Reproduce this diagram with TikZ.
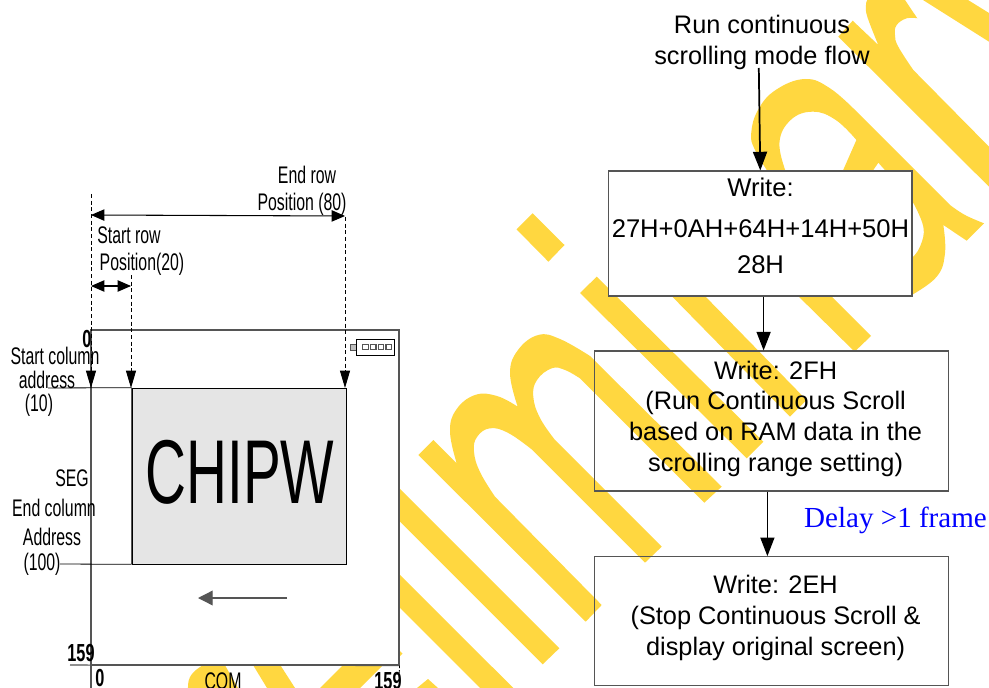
\documentclass[tikz,border=0pt]{standalone}
\usepackage{xcolor}
\usepackage{fontspec}
\setmainfont{Liberation Sans}
\newfontfamily\narrowsans[FakeStretch=0.66]{Liberation Sans}
\newfontfamily\bignarrow[FakeStretch=0.625]{Liberation Sans}
\newfontfamily\delayserif{Liberation Serif}
\usetikzlibrary{arrows.meta}
\definecolor{wmark}{HTML}{FFD740}
\definecolor{winfill}{HTML}{E5E5E5}
\definecolor{edge}{HTML}{555555}
\definecolor{delayblue}{HTML}{0000FF}
\tikzset{
  flowarrow/.style={draw=black,line width=1.3pt,-{Triangle[length=14pt,width=10.5pt]}},
  dimdash/.style={draw=black,line width=0.7pt,dash pattern=on 3pt off 2pt,-{Triangle[length=13pt,width=7.5pt]}},
  dimline/.style={draw=black,line width=0.8pt,{Triangle[length=10pt,width=8.5pt]}-{Triangle[length=10pt,width=8.5pt]}},
  scrollarrow/.style={draw=edge,line width=1pt,-{Triangle[length=11pt,width=11pt]}},
  thinline/.style={draw=edge,line width=0.8pt},
  flowbox/.style={draw=edge,line width=0.8pt,inner sep=0pt},
  flowtext/.style={align=center,inner sep=0pt,font=\fontsize{19}{23}\selectfont},
  panellabel/.style={align=center,inner sep=0pt,font=\narrowsans\fontsize{18}{20}\selectfont},
  paneldigit/.style={inner sep=0pt,font=\narrowsans\bfseries\fontsize{18.5}{20}\selectfont},
  iconcell/.style={draw=edge,line width=0.8pt,fill=white,inner sep=0pt,minimum width=4.2pt,minimum height=4pt},
  smoothing/.style={smooth,tension=0.7}
}
\begin{document}
\begin{tikzpicture}[x=0.75pt,y=-0.75pt]
\useasboundingbox (0,0) rectangle (989,688);

% watermark
\fill[wmark] (516.5,229.3) -- (532.6,213.3) -- (564.5,245) -- (548.4,261.7) -- cycle;
\fill[wmark] (580,293) -- (596.7,276.7) -- (763.3,441.7) -- (746.7,458.3) -- cycle;
\fill[wmark] (668,292.3) -- (701,292) -- (806.5,400) -- (790,416.7) -- cycle;
\fill[wmark] (790,288) -- (825,290) -- (871,336) -- (854.6,351.7) -- cycle;
\fill[wmark] (923,0) -- (989,41.7) -- (989,13) -- (968,0) -- cycle;
\fill[wmark] (390,479) -- (559.3,648.3) -- (542.7,664.3) -- (390,511.6) -- cycle;
\fill[wmark] (390,565) -- (513.3,688) -- (480,688) -- (390,598) -- cycle;
\fill[wmark] (399,650) -- (402.5,653.5) -- (399,657) -- cycle;
\fill[wmark] (417,688) -- (428,679) -- (438,688) -- cycle;
\fill[wmark] (350,658) -- (390,658) -- (360,688) -- (320,688) -- cycle;
\fill[wmark] (250,660) -- (277,660) -- (295,688) -- (267,688) -- cycle;
\fill[wmark] (188,688) -- plot[smoothing] coordinates {(188,688) (190,677) (200,667) (215,660)} -- (222,660) -- (238,688) -- cycle;
\fill[wmark] (418.3,455) -- (433.3,440) -- (456.7,463.3)
  -- plot[smoothing] coordinates {(456.7,463.3) (450,432) (456,410) (475,395) (497,396) (517.7,406.7)}
  -- plot[smoothing] coordinates {(517.7,406.7) (510,373.3) (518,350) (538.3,335) (560,339) (590,356)}
  -- (721.7,486.7) -- (704.3,502.7) -- (580,378.4)
  -- plot[smoothing] coordinates {(580,378.4) (565,370) (551.7,368.3) (537,380) (533.3,396.7) (540,418) (555,440)}
  -- (661.7,546.7) -- (645,562.7) -- (531.7,449.4)
  -- plot[smoothing] coordinates {(531.7,449.4) (508.3,433) (490,428.3) (477,437) (474,451.7) (480,472) (495,496.7)}
  -- (601.7,605) -- (585.7,621.7) -- cycle;
\fill[wmark] (770,175)
  -- plot[smoothing] coordinates {(770,175) (755,150) (751.2,133.3) (758,110) (775.7,90) (805,79) (830,88.3) (856.7,111.7)}
  -- (950,205) -- plot[smoothing] coordinates {(950,205) (965,215) (984,223.3)}
  -- (966.7,240.7) -- (943.3,225)
  -- plot[smoothing] coordinates {(943.3,225) (945,253.3) (936.7,276.7) (911.7,295)}
  -- (905,290) -- (905,262)
  -- plot[smoothing] coordinates {(911.7,258.3) (920,246.7) (923.3,226.7) (911.7,200)}
  -- (878.3,162.7) -- (870,175) -- (841,175) -- (856.4,140)
  -- plot[smoothing] coordinates {(856.4,140) (835.8,120) (813,111.7) (790.7,120) (779.4,143.3) (787,175)}
  -- cycle;
\fill[wmark] (838.3,36.7) -- (852.7,20.7) -- (878.3,45)
  -- plot[smoothing] coordinates {(878.3,45) (867.3,16.7) (866,5) (867.3,0)}
  -- (905,0) -- (917.3,18.3)
  -- plot[smoothing] coordinates {(917.3,18.3) (906.7,18.3) (896.7,25) (895,35) (898.3,46.7) (913.3,70)}
  -- (989,146.7) -- (989,186.7) -- cycle;

% left panel
\node[thinline,fill=white,minimum width=231pt,minimum height=251.25pt,inner sep=0pt] (panel) at (245,497.5) {};
\node[draw=black,line width=0.5pt,fill=winfill,minimum width=160.5pt,minimum height=132pt,inner sep=0pt] (win) at (239,476) {};
\draw[edge,line width=1.1pt] (win.north west) -- (win.south west);
\node[inner sep=0pt,font=\bignarrow\fontsize{68}{68}\selectfont] (logo) at (240,472) {CHIPW};

\coordinate (startcol) at (91,194);
\coordinate (startrow) at (131,275);
\coordinate (endrow) at (345,217);
\coordinate (colfoot) at (91,688);
\coordinate (seedge) at (70,665);
\coordinate (scrollstart) at (287,598);
\coordinate (scrollend) at (198,598);
\coordinate (toptick) at (48,388);
\coordinate (bottick) at (60,564);

\draw[dimdash] (startcol) -- (91,388);
\draw[dimdash] (startrow) -- (131,388);
\draw[dimdash] (endrow) -- (345,388);
\draw[dimline] (91,215) -- (345,216);
\draw[dimline] (91,286) -- (131,286);
\draw[thinline] (91,388) -- (colfoot);
\draw[thinline] (seedge) -- (panel.south east);
\draw[draw=black,line width=0.6pt] (toptick) -- (win.north west);
\draw[draw=black,line width=0.6pt] (bottick) -- (win.south west);
\draw[draw=black,line width=0.6pt,dash pattern=on 2pt off 1.5pt] (panel.south east) -- (399,680);
\draw[scrollarrow] (scrollstart) -- (scrollend);

% connector block on the panel
\node[draw=edge,line width=0.6pt,fill=lightgray,minimum width=4.5pt,minimum height=5pt,inner sep=0pt] (icontab) at (353.7,347.5) {};
\node[draw=black,line width=0.6pt,fill=white,minimum width=28.5pt,minimum height=12pt,inner sep=0pt] (icon) at (375.8,347) {};
\foreach \xpos in {365.5,373.2,381,388.8}
  \node[iconcell] (cell\xpos) at (\xpos,346.7) {};

\node[panellabel] (endrowlab) at (307,175) {End row};
\node[panellabel] (endposlab) at (302,204) {Position (80)};
\node[panellabel] (startrowlab) at (129,235) {Start row};
\node[panellabel] (startposlab) at (142,264) {Position(20)};
\node[panellabel] (startcollab) at (55,356) {Start column};
\node[panellabel] (addrlab) at (47,380) {address};
\node[panellabel] (tenlab) at (39,405) {(10)};
\node[panellabel] (seglab) at (72,478) {SEG};
\node[panellabel] (endcollab) at (54,508) {End column};
\node[panellabel] (addrtwolab) at (52,537) {Address};
\node[panellabel] (hundredlab) at (42,564) {(100)};
\node[panellabel] (comlab) at (223,681) {COM};
\node[paneldigit] (zerotop) at (87,339) {0};
\node[paneldigit] (seglast) at (81,653) {159};
\node[paneldigit] (zerobot) at (100,678) {0};
\node[paneldigit] (comlast) at (388,681) {159};

% flow
\node[flowtext] (title) at (762,42) {Run continuous\\[0.2pt]scrolling mode flow};
\node[flowbox,fill=white,minimum width=227.5pt,minimum height=93.75pt] (box1) at (760.3,233.5) {};
\node[flowbox,minimum width=265.5pt,minimum height=105pt] (box2) at (771.5,421) {};
\node[flowbox,minimum width=265.5pt,minimum height=96.75pt] (box3) at (771.5,621.2) {};
\node[flowtext,font=\fontsize{19.2}{23}\selectfont] (box1text) at (760.5,226) {Write:\\[7.75pt]27H+0AH+64H+14H+50H\\[4pt]28H};
\node[flowtext] (box2text) at (775.6,418.5) {Write: 2FH\\(Run Continuous Scroll\\based on RAM data in the\\scrolling range setting)};
\node[flowtext] (box3text) at (775.6,618) {Write: 2EH\\(Stop Continuous Scroll \&\\display original screen)};
\node[inner sep=0pt,text=delayblue,font=\delayserif\fontsize{21.8}{24}\selectfont] (delay) at (895.5,520) {Delay >1 frame};

\coordinate (titlefoot) at (758.8,68);
\coordinate (firstdrop) at (763.6,0);
\coordinate (seconddrop) at (767.4,0);
\draw[flowarrow] (titlefoot) -- (box1.north);
\draw[flowarrow] (box1.south -| firstdrop) -- (box2.north -| firstdrop);
\draw[flowarrow] (box2.south -| seconddrop) -- (box3.north -| seconddrop);
\end{tikzpicture}
\end{document}
